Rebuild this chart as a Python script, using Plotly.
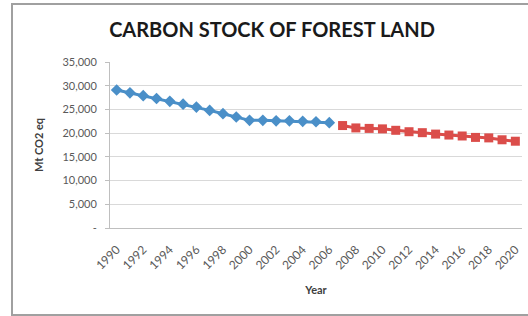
import plotly.graph_objects as go

hist_years = list(range(1990, 2007))
hist_values = [29100, 28500, 27900, 27300, 26700, 26100, 25500, 24800, 24100,
               23400, 22700, 22700, 22600, 22600, 22500, 22400, 22200]
proj_years = list(range(2007, 2021))
proj_values = [21600, 21100, 21000, 20900, 20600, 20300, 20100, 19800, 19600,
               19400, 19100, 19000, 18600, 18300]

y_tickvals = [0, 5000, 10000, 15000, 20000, 25000, 30000, 35000]
y_ticktext = ["-", "5,000", "10,000", "15,000", "20,000", "25,000", "30,000", "35,000"]
x_tickvals = list(range(1990, 2021, 2))
x_ticktext = [str(v) for v in x_tickvals]

title_text = "CARBON STOCK OF FOREST LAND"
x_title = "Year"
y_title = "Mt CO2 eq"

fig = go.Figure()
fig.add_trace(go.Scatter(
    x=hist_years, y=hist_values, mode="lines+markers",
    line=dict(color="#4A8FC8", width=3),
    marker=dict(symbol="diamond", size=9, color="#4A8FC8"),
    showlegend=False,
))
fig.add_trace(go.Scatter(
    x=proj_years, y=proj_values, mode="lines+markers",
    line=dict(color="#DB4D4A", width=3),
    marker=dict(symbol="square", size=9, color="#DB4D4A"),
    showlegend=False,
))

W, H = 528, 316
L, R, T, B = 110, 6, 62, 88
pw, ph = W - L - R, H - T - B

def px_x(p):
    return (p - L) / pw

def px_y(p):
    return 1 - (p - T) / ph

fig.add_shape(type="rect", xref="paper", yref="paper",
              x0=px_x(12), x1=px_x(529), y0=px_y(315), y1=px_y(4),
              line=dict(color="#A0A0A0", width=2), fillcolor="rgba(0,0,0,0)",
              layer="below")

fig.update_layout(
    width=W, height=H,
    margin=dict(l=L, r=R, t=T, b=B),
    paper_bgcolor="white", plot_bgcolor="white",
    font=dict(family="Lato, Open Sans, sans-serif", color="#595959", size=11),
    title=dict(text="<b>" + title_text + "</b>", x=272 / W,
               xanchor="center", y=1 - 30 / H, yanchor="middle",
               font=dict(size=20, color="#1a1a1a", family="Lato, Open Sans, sans-serif")),
    xaxis=dict(
        range=[1989.5, 2020.5],
        tickmode="array", tickvals=x_tickvals, ticktext=x_ticktext,
        tickangle=-45, showgrid=False, zeroline=False,
        showline=True, linecolor="#BFBFBF", linewidth=1,
        ticks="", ticklabelstandoff=9, tickfont=dict(size=12, color="#595959"),
        title=dict(text="<b>" + x_title + "</b>", font=dict(size=11, color="#404040"), standoff=14),
    ),
    yaxis=dict(
        range=[0, 35000],
        tickmode="array", tickvals=y_tickvals, ticktext=y_ticktext,
        showgrid=True, gridcolor="#D9D9D9", gridwidth=1, zeroline=False,
        showline=True, linecolor="#BFBFBF", linewidth=1,
        ticks="outside", ticklen=4, tickcolor="#BFBFBF", ticklabelstandoff=6,
        tickfont=dict(size=11, color="#595959"),
        title=dict(text="<b>" + y_title + "</b>", font=dict(size=11, color="#404040"), standoff=16),
    ),
)

fig.write_html("out.html", post_script="document.body.style.margin='0';",
               config={"displayModeBar": False})
